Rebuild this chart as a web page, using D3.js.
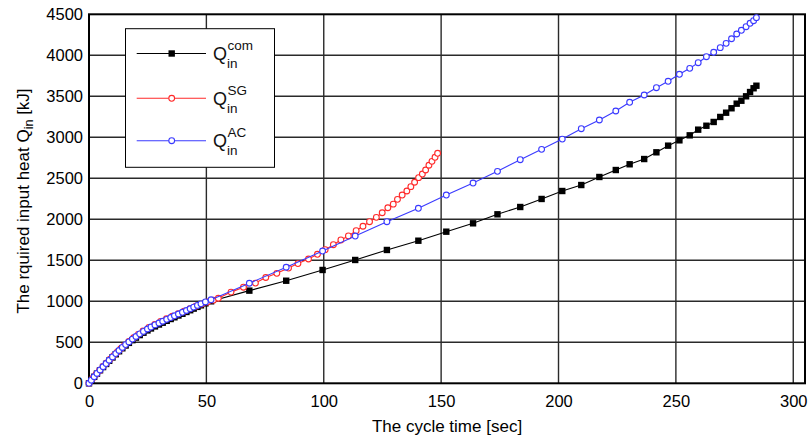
<!DOCTYPE html>
<html>
<head>
<meta charset="utf-8">
<script src="https://cdn.jsdelivr.net/npm/d3@7"></script>
<style>
  html, body { margin: 0; padding: 0; background: #fff; }
  svg text { font-family: "Liberation Sans", Arial, sans-serif; }
</style>
</head>
<body>
<svg id="chart" width="809" height="438"></svg>
<script>
// ---------------- data ----------------
const xTicks = [0, 50, 100, 150, 200, 250, 300];
const yTicks = [0, 500, 1000, 1500, 2000, 2500, 3000, 3500, 4000, 4500];

// Q_in^AC  (blue)
const acTime = [0, 1.0, 2.2, 3.4, 4.7, 6.0, 7.3, 8.6, 10.0, 11.4, 12.8, 14.2, 15.6, 17.0, 18.5, 20.0, 21.6, 23.2,
  24.9, 26.4, 28.1, 29.8, 31.4, 33.1, 34.8, 36.4, 38.1, 39.8, 41.5, 43.1, 44.6, 46.2, 47.7, 49.6, 52.0,
  68.3, 84.0, 99.5, 113.4, 126.9, 140.3, 152.2, 163.6, 174.0, 183.7, 192.8, 201.6, 209.7, 217.4, 224.4,
  230.3, 236.5, 241.7, 246.7, 251.5, 255.9, 259.5, 263.0, 266.1, 268.9, 271.4, 273.7, 275.9, 277.9,
  279.9, 281.6, 283.1, 284.3];
const acHeat = [0, 38, 80, 120, 162, 202, 241, 281, 322, 362, 400, 437, 472, 505, 539, 571, 603, 633,
  662, 686, 712, 735, 757, 780, 802, 823, 845, 866, 888, 909, 929, 950, 969, 992, 1018,
  1220, 1415, 1613, 1796, 1971, 2134, 2296, 2442, 2585, 2727, 2853, 2978, 3105, 3211, 3321,
  3427, 3516, 3605, 3683, 3768, 3841, 3910, 3983, 4037, 4093, 4146, 4202, 4260, 4305,
  4349, 4390, 4422, 4459];

// Q_in^SG  (red)
const sgTime = [0, 1.5, 3.0, 4.5, 6.0, 7.5, 9.0, 10.5, 12.0, 13.5, 15.0, 17.0, 19.0, 21.0, 23.0, 25.5, 28.0,
  30.5, 33.0, 35.5, 38.0, 40.5, 43.0, 45.5, 48.0, 50.5, 53.0,
  55.1, 60.5, 65.8, 70.9, 75.3, 80.0, 85.0, 89.0, 93.5, 97.3, 100.6, 104.1, 107.3, 110.5, 113.8,
  116.7, 119.5, 122.4, 124.9, 127.3, 129.6, 131.4, 133.4, 135.4, 137.1, 138.7, 140.4, 142.0,
  143.4, 144.8, 146.1, 147.4, 148.5];
const sgHeat = [0, 58, 108, 157, 204, 249, 293, 338, 380, 421, 460, 510, 555, 597, 638, 681, 719,
  754, 787, 818, 849, 879, 909, 940, 966, 991, 1014,
  1037, 1112, 1172, 1222, 1290, 1341, 1405, 1460, 1516, 1573, 1630, 1690, 1748, 1797, 1861,
  1915, 1971, 2024, 2080, 2141, 2185, 2243, 2296, 2345, 2398, 2452, 2508, 2552,
  2601, 2659, 2707, 2756, 2805];

// Q_in^com  (black)
const comTime = [0, 1.0, 2.2, 3.4, 4.7, 6.0, 7.3, 8.6, 10.0, 11.4, 12.8, 14.2, 15.6, 17.0, 18.5, 20.0, 21.6, 23.2,
  24.9, 26.4, 28.1, 29.8, 31.4, 33.1, 34.8, 36.4, 38.1, 39.8, 41.5, 43.1, 44.6, 46.2, 47.7, 49.6, 52.0,
  68.3, 84.0, 99.5, 113.4, 126.9, 140.3, 152.2, 163.6, 174.0, 183.7, 192.8, 201.6, 209.7, 217.4, 224.4,
  230.3, 236.5, 241.7, 246.7, 251.5, 255.9, 259.5, 263.0, 266.1, 268.9, 271.4, 273.7, 275.9, 277.9,
  279.9, 281.6, 283.1, 284.3];
const comHeat = [0, 38, 79, 118, 159, 198, 236, 275, 315, 354, 391, 427, 461, 493, 526, 557, 588, 617,
  645, 669, 694, 717, 739, 762, 784, 805, 827, 848, 870, 891, 911, 932, 951, 975, 1000,
  1130, 1251, 1382, 1504, 1626, 1739, 1849, 1951, 2061, 2150, 2248, 2345, 2418, 2516, 2601,
  2671, 2735, 2817, 2898, 2963, 3024, 3093, 3141, 3187, 3248, 3300, 3354, 3410, 3446,
  3500, 3552, 3598, 3629];

const seriesNames = ["com", "SG", "AC"];
const seriesColors = ["#000000", "#ff2a2a", "#3a3aff"];

// ---------------- layout ----------------
const svg = d3.select("#chart");
const margin = { left: 89, right: 4, top: 14.3, bottom: 54.7 };
const W = 809, H = 438;
const x = d3.scaleLinear().domain([0, 305]).range([margin.left, W - margin.right]);
const y = d3.scaleLinear().domain([0, 4500]).range([H - margin.bottom, margin.top]);

// grid
const grid = svg.append("g");
grid.selectAll("line.v").data(xTicks.filter(d => d > 0)).join("line")
  .attr("x1", d => x(d)).attr("x2", d => x(d))
  .attr("y1", y(0)).attr("y2", y(4500))
  .attr("stroke", "#2a2a2a").attr("stroke-width", 1.4);
grid.selectAll("line.h").data(yTicks.filter(d => d > 0 && d < 4500)).join("line")
  .attr("x1", x(0)).attr("x2", x(305))
  .attr("y1", d => y(d)).attr("y2", d => y(d))
  .attr("stroke", "#2a2a2a").attr("stroke-width", 1.4);

// axes
const xAxis = svg.append("g").attr("transform", `translate(0,${y(0)})`)
  .call(d3.axisBottom(x).tickValues(xTicks).tickSize(0).tickPadding(12).tickFormat(d3.format("d")));
const yAxis = svg.append("g").attr("transform", `translate(${x(0)},0)`)
  .call(d3.axisLeft(y).tickValues(yTicks).tickSize(0).tickPadding(6).tickFormat(d3.format("d")));
[xAxis, yAxis].forEach(a => {
  a.select(".domain").remove();
  a.selectAll("text").attr("font-size", 16.5).attr("fill", "#000")
    .attr("font-family", "'Liberation Sans', Arial, sans-serif");
});

// frame
svg.append("rect")
  .attr("x", x(0)).attr("y", y(4500))
  .attr("width", x(305) - x(0)).attr("height", y(0) - y(4500))
  .attr("fill", "none").attr("stroke", "#000").attr("stroke-width", 2);

// series
const line = d3.line().x(d => x(d[0])).y(d => y(d[1]));
const zip = (t, q) => t.map((v, i) => [v, q[i]]);
const allData = [zip(comTime, comHeat), zip(sgTime, sgHeat), zip(acTime, acHeat)];

allData.forEach((data, i) => {
  const g = svg.append("g");
  g.append("path").datum(data).attr("d", line)
    .attr("fill", "none").attr("stroke", seriesColors[i]).attr("stroke-width", 1.1);
  if (i === 0) {
    g.selectAll("rect").data(data).join("rect")
      .attr("x", d => x(d[0]) - 3.2).attr("y", d => y(d[1]) - 3.2)
      .attr("width", 6.4).attr("height", 6.4).attr("fill", "#000");
  } else {
    g.selectAll("circle").data(data).join("circle")
      .attr("cx", d => x(d[0])).attr("cy", d => y(d[1])).attr("r", 2.9)
      .attr("fill", "#fff").attr("stroke", seriesColors[i]).attr("stroke-width", 1.1);
  }
});

// legend
const lg = svg.append("g");
lg.append("rect").attr("x", 125.5).attr("y", 28.7).attr("width", 149).attr("height", 138.6)
  .attr("fill", "#fff").attr("stroke", "#000").attr("stroke-width", 1);
const rowsY = [53.5, 98.3, 140.7];
seriesNames.forEach((name, i) => {
  const yy = rowsY[i];
  lg.append("line").attr("x1", 136.7).attr("x2", 206).attr("y1", yy).attr("y2", yy)
    .attr("stroke", seriesColors[i]).attr("stroke-width", 1.1);
  if (i === 0) {
    lg.append("rect").attr("x", 171.7 - 3.2).attr("y", yy - 3.2).attr("width", 6.4).attr("height", 6.4)
      .attr("fill", "#000");
  } else {
    lg.append("circle").attr("cx", 171.7).attr("cy", yy).attr("r", 2.9)
      .attr("fill", "#fff").attr("stroke", seriesColors[i]).attr("stroke-width", 1.1);
  }
  lg.append("text").attr("x", 213).attr("y", yy + 6.5).attr("font-size", 18).attr("fill", "#111").text("Q");
  lg.append("text").attr("x", 227.5).attr("y", yy - 3.5).attr("font-size", 13.5).attr("fill", "#111").text(name);
  lg.append("text").attr("x", 227).attr("y", yy + 14.5).attr("font-size", 13.5).attr("fill", "#111").text("in");
});

// axis titles
svg.append("text").attr("x", 447).attr("y", 432).attr("text-anchor", "middle")
  .attr("font-size", 17).attr("fill", "#000").text("The cycle time [sec]");
const yt = svg.append("text").attr("transform", "translate(29,201) rotate(-90)")
  .attr("text-anchor", "middle").attr("font-size", 17).attr("fill", "#000");
yt.append("tspan").text("The rquired input heat Q");
yt.append("tspan").attr("font-size", 12.5).attr("dy", 4).text("in");
yt.append("tspan").attr("dy", -4).text(" [kJ]");
</script>
</body>
</html>
